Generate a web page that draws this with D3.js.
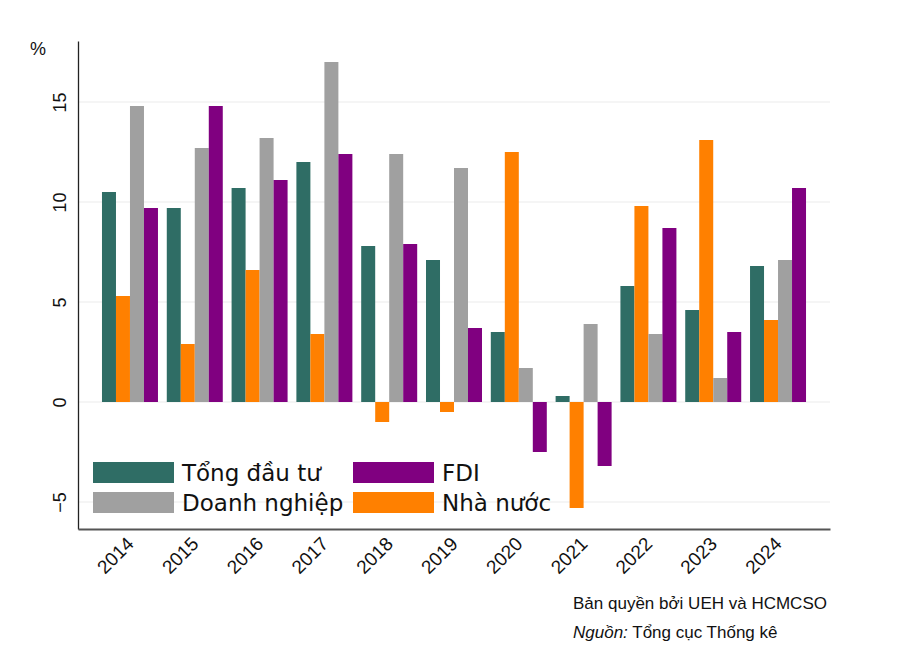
<!DOCTYPE html>
<html><head><meta charset="utf-8">
<script src="https://cdn.jsdelivr.net/npm/d3@7"></script>
<style>body{margin:0;background:#fff}</style>
</head><body>
<svg id="c" width="913" height="659"></svg>
<script>
const years = ["2014","2015","2016","2017","2018","2019","2020","2021","2022","2023","2024"];
const tongDauTu = [10.5, 9.7, 10.7, 12.0, 7.8, 7.1, 3.5, 0.3, 5.8, 4.6, 6.8];
const nhaNuoc   = [5.3, 2.9, 6.6, 3.4, -1.0, -0.5, 12.5, -5.3, 9.8, 13.1, 4.1];
const doanhNghiep = [14.8, 12.7, 13.2, 17.0, 12.4, 11.7, 1.7, 3.9, 3.4, 1.2, 7.1];
const fdi       = [9.7, 14.8, 11.1, 12.4, 7.9, 3.7, -2.5, -3.2, 8.7, 3.5, 10.7];
const yTicks = [-5, 0, 5, 10, 15];
const seriesNames = ["Tổng đầu tư", "Nhà nước", "Doanh nghiệp", "FDI"];
const seriesColors = ["#2f6d65", "#ff8000", "#a0a0a0", "#800080"];
const seriesData = [tongDauTu, nhaNuoc, doanhNghiep, fdi];

const svg = d3.select("#c");
const mLeft = 78, mRight = 830, mTop = 41, mBottom = 529;
const y = d3.scaleLinear().domain([-6.35, 18.05]).range([mBottom, mTop]);
const x = d3.scaleBand().domain(years).range([mLeft, mRight]).paddingInner(0.136).paddingOuter(0.37);
const xs = d3.scaleBand().domain(d3.range(4)).range([0, x.bandwidth()]);

// gridlines
svg.append("g").selectAll("line").data(yTicks).join("line")
  .attr("x1", mLeft).attr("x2", mRight)
  .attr("y1", d => y(d)).attr("y2", d => y(d))
  .attr("stroke", "#ebebeb").attr("stroke-width", 1.2);

// bars
const groups = svg.append("g").selectAll("g").data(years).join("g")
  .attr("transform", d => `translate(${x(d)},0)`);
groups.selectAll("rect").data((d, i) => seriesData.map((s, k) => ({k, v: s[i]}))).join("rect")
  .attr("x", d => xs(d.k)).attr("width", xs.bandwidth())
  .attr("y", d => y(Math.max(0, d.v)))
  .attr("height", d => Math.abs(y(d.v) - y(0)))
  .attr("fill", d => seriesColors[d.k]);

// axes
const yAxis = d3.axisLeft(y).tickValues(yTicks).tickSize(0).tickPadding(0)
  .tickFormat(d => d < 0 ? "\u2212" + Math.abs(d) : d);
const ya = svg.append("g").attr("transform", `translate(${mLeft},0)`).call(yAxis);
ya.select(".domain").attr("stroke", "#222").attr("stroke-width", 1.3);
ya.selectAll(".tick text")
  .attr("font-family", "Liberation Sans, Arial, sans-serif").attr("font-size", 18).attr("fill", "#111")
  .attr("text-anchor", "middle").attr("transform", "translate(-18,0) rotate(-90)").attr("dy", "0.35em").attr("x", 0);

const xAxis = d3.axisBottom(x).tickSize(0).tickPadding(0);
const xa = svg.append("g").attr("transform", `translate(0,${mBottom})`).call(xAxis);
xa.select(".domain").attr("stroke", "#555").attr("stroke-width", 2);
xa.selectAll(".tick text")
  .attr("font-family", "Liberation Sans, Arial, sans-serif").attr("font-size", 19).attr("fill", "#111")
  .attr("text-anchor", "end").attr("y", 0).attr("dy", 0)
  .attr("transform", "translate(5,16) rotate(-45)");

// % label
svg.append("text").attr("x", 38).attr("y", 55).attr("text-anchor", "middle")
  .attr("font-family", "Liberation Sans, Arial, sans-serif").attr("font-size", 18).attr("fill", "#111").text("%");

// legend
const legendItems = [
  {k: 0, x: 93, y: 462}, {k: 3, x: 353, y: 462},
  {k: 2, x: 93, y: 492}, {k: 1, x: 353, y: 492}
];
const lg = svg.append("g").selectAll("g").data(legendItems).join("g")
  .attr("transform", d => `translate(${d.x},${d.y})`);
lg.append("rect").attr("width", 81).attr("height", 21).attr("fill", d => seriesColors[d.k]);
lg.append("text").attr("x", 89).attr("y", 18.5)
  .attr("font-family", "DejaVu Sans, Verdana, sans-serif").attr("font-size", 23).attr("fill", "#111")
  .text(d => seriesNames[d.k]);

// footer
const ft = svg.append("g").attr("font-family", "Liberation Sans, Arial, sans-serif").attr("font-size", 17).attr("fill", "#111");
ft.append("text").attr("x", 573).attr("y", 609).text("Bản quyền bởi UEH và HCMCSO");
const t2 = ft.append("text").attr("x", 573).attr("y", 638);
t2.append("tspan").attr("font-style", "italic").text("Nguồn:");
t2.append("tspan").text(" Tổng cục Thống kê");
</script>
</body></html>
